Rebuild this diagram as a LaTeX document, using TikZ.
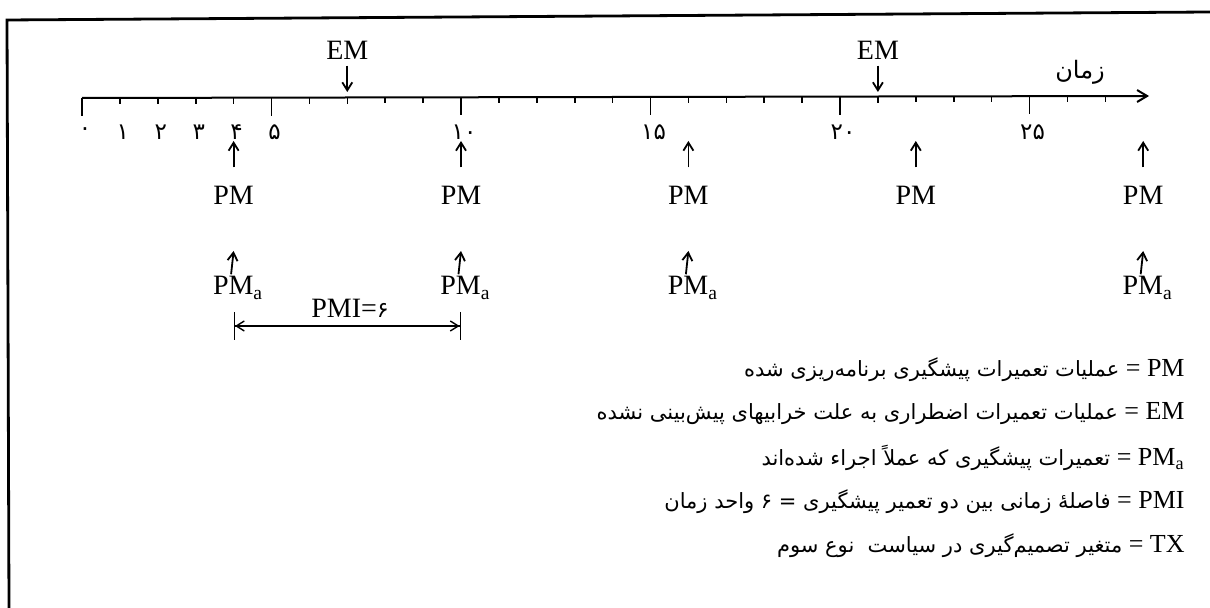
\documentclass[tikz,border=0pt]{standalone}
\usepackage{fontspec}
\setmainfont{Liberation Serif}
\newfontfamily\fafont[Script=Arabic]{DejaVu Sans}
\TeXXeTstate=1
\usetikzlibrary{arrows.meta}
\newcommand\pma{PM\textsubscript{a}}

\begin{document}
\begin{tikzpicture}[x=0.5pt,y=-0.5pt,
  lbl/.style={font=\fontsize{14}{16}\selectfont,inner sep=0pt},
  num/.style={font=\fafont\fontsize{11.5}{13}\selectfont,inner sep=0pt},
  legend/.style={font=\fontsize{13}{15}\selectfont,inner sep=0pt,anchor=east},
  fatext/.style={font=\fafont\fontsize{10.5}{12}\selectfont},
  evarrow/.style={-{Straight Barb[length=4pt,width=5pt]},line width=0.9pt},
  tick/.style={line width=0.8pt}]
\useasboundingbox (0,0) rectangle (1210,608);
% frame
\draw[line width=1.4pt] (1210,12) -- (7,20) -- (9,608);
% time axis
\coordinate (t0) at (82,98);
\coordinate (tend) at (1149,96);
\draw[line width=1pt,-{Straight Barb[length=5pt,width=6pt]}] (t0) -- (tend);
\foreach \i in {1,...,27} \draw[tick] (82+37.9*\i,98-0.07*\i) -- ++(0,6);
\foreach \i in {0,5,10,15,20,25} \draw[tick] (82+37.9*\i,98-0.07*\i) -- ++(0,18);
\node[num,font=\fafont\fontsize{12}{14}\selectfont] (zaman) at (1080,72) {زمان};
\foreach \i/\d in {0/۰,1/۱,2/۲,3/۳,4/۴,5/۵,10/۱۰,15/۱۵,20/۲۰,25/۲۵}
  \node[num] (n\i) at (85+37.9*\i,132) {\d};

% emergency repairs
\foreach \i in {7,21}{
  \node[lbl] (em\i) at (82+37.9*\i,50) {EM};
  \coordinate (emt\i) at (82+37.9*\i,92);
  \draw[evarrow] ([yshift=-3pt]em\i.south) -- (emt\i);
}

% planned PM
\foreach \i in {4,10,16,22,28}{
  \node[lbl] (pm\i) at (82+37.9*\i,195) {PM};
  \coordinate (pmt\i) at (82+37.9*\i,141);
  \draw[evarrow] ([yshift=9pt]pm\i.north) -- (pmt\i);
}

% PM actually done
\foreach \i in {4,10,16,28}{
  \node[lbl,anchor=base west] (pma\i) at (82+37.9*\i-21,295) {\pma};
  \coordinate (pmat\i) at (82+37.9*\i,251);
  \draw[evarrow] ([yshift=1pt,xshift=-3.5pt]pma\i.north) -- (pmat\i);
}

% interval
\coordinate (pmiL) at (82+37.9*4,326);
\coordinate (pmiR) at (82+37.9*10,326);
\draw[line width=0.7pt,{Bar[width=14pt]Straight Barb[length=4pt,width=5pt]}-{Straight Barb[length=4pt,width=5pt]Bar[width=14pt]}] (pmiL) -- (pmiR);
\node[lbl] (pmi) at (350,308) {PMI={\fafont\fontsize{11}{12}\selectfont ۶}};

% legend
\node[legend] (lgpm) at (1185,370) {\beginR\beginL PM\endL{} = {\fafont\fontsize{10.5}{12}\selectfont عملیات تعمیرات پیشگیری برنامه‌ریزی شده}\endR};
\node[legend] (lgem) at (1185,414) {\beginR\beginL EM\endL{} = {\fafont\fontsize{10.5}{12}\selectfont عملیات تعمیرات اضطراری به علت خرابیهای پیش‌بینی نشده}\endR};
\node[legend] (lgpma) at (1185,458) {\beginR\beginL\pma\endL{} = {\fafont\fontsize{10.5}{12}\selectfont تعمیرات پیشگیری که عملاً اجراء شده‌اند}\endR};
\node[legend] (lgpmi) at (1185,502) {\beginR\beginL PMI\endL{} = {\fafont\fontsize{10.5}{12}\selectfont فاصلهٔ زمانی بین دو تعمیر پیشگیری = ۶ واحد زمان}\endR};
\node[legend] (lgtx) at (1185,546) {\beginR\beginL TX\endL{} = {\fafont\fontsize{10.5}{12}\selectfont متغیر تصمیم‌گیری در سیاست \ نوع سوم}\endR};
\end{tikzpicture}
\end{document}
